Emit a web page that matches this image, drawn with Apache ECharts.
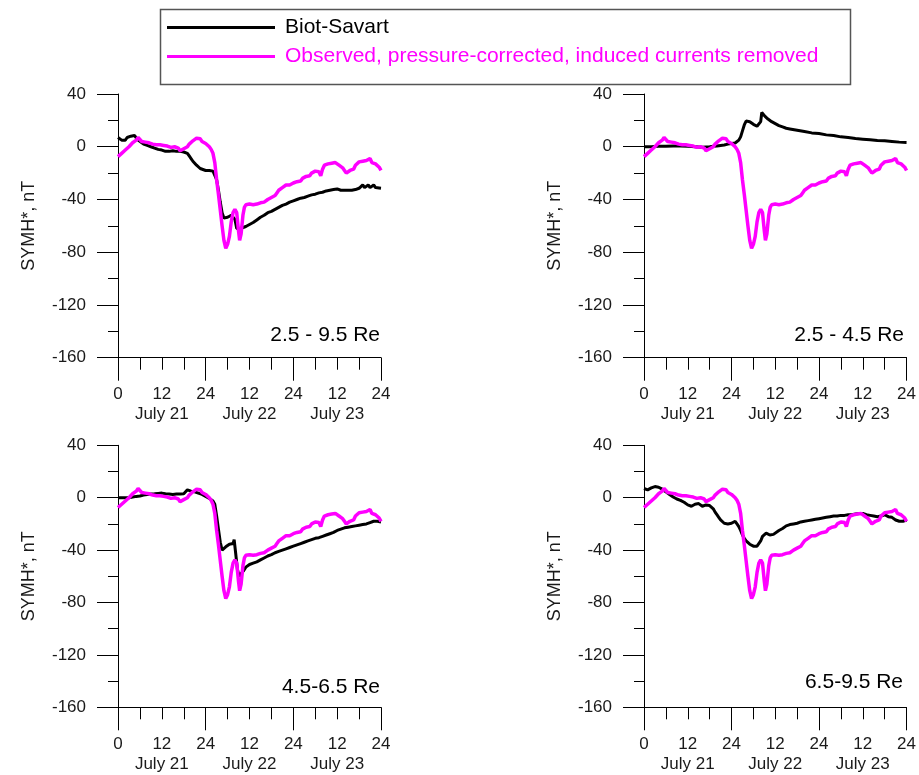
<!DOCTYPE html>
<html>
<head>
<meta charset="utf-8">
<script src="https://cdn.jsdelivr.net/npm/echarts@6/dist/echarts.min.js"></script>
<style>
html,body{margin:0;padding:0;background:#fff;}
#chart{width:919px;height:775px;}
</style>
</head>
<body>
<div id="chart"></div>
<script>
// ---- Data (hours since 00 UT July 21, SYMH* in nT) ----
const xTickLabels = ['0', '12', '24', '12', '24', '12', '24'];
const dayLabels = ['July 21', 'July 22', 'July 23'];
const panelLabels = ['2.5 - 9.5 Re', '2.5 - 4.5 Re', '4.5-6.5 Re', '6.5-9.5 Re'];
const seriesNames = ['Biot-Savart', 'Observed, pressure-corrected, induced currents removed'];

// Observed, pressure-corrected, induced currents removed (same in all panels)
const observed = [
 [0,-7.5],[0.5,-6],[1,-5],[1.5,-3.5],[2,-2.5],[2.5,-1],[3,0],[3.5,1.5],[4,3],[4.5,3.5],[5,5],[5.5,7],[6,5.5],[6.5,4],
 [7,5],[7.5,3.5],[8,4],[8.5,3],[9,3.5],[9.5,2],[10,2.5],[10.5,1.5],[11,0.5],[11.5,1.5],[12,0.5],[12.5,1],[13,0],[13.5,0.5],
 [14,0.5],[14.5,-0.5],[15,0.5],[15.5,0],[16,0.5],[16.5,-1],[17,-3],[17.5,-2.5],[18,-1.5],[18.5,-2],[19,0],[19.5,2],[20,3],
 [20.5,4.5],[21,5],[21.5,6.5],[22,5],[22.5,6],[23,4],[23.5,3],[24,2.5],[24.5,1.5],[25,0],[25.5,-2],[26,-5],[26.5,-12],
 [27,-25],[27.5,-36],[28,-48],[28.5,-60],[29,-71],[29.5,-77],[30,-74],[30.5,-68],[31,-57],[31.5,-50],[32,-47.5],[32.5,-50],
 [33,-64],[33.3,-71],[33.7,-66],[34.2,-52],[34.6,-46],[35,-44],[35.5,-45],[36,-43.5],[36.5,-44.5],[37,-44],[37.5,-44.5],
 [38,-43.5],[38.5,-44],[39,-42.5],[39.5,-43],[40,-42],[40.5,-41.5],[41,-40],[41.5,-40.5],[42,-38.5],[42.5,-38],[43,-37],
 [43.5,-35],[44,-33],[44.5,-33.5],[45,-31],[45.5,-29.5],[46,-29],[46.5,-30],[47,-29],[47.5,-28],[48,-27.5],[48.5,-28],
 [49,-26.5],[49.5,-25.5],[50,-26],[50.5,-24],[51,-23],[51.5,-22.5],[52,-21.5],[52.5,-22],[53,-20],[53.5,-21],[54,-18.5],
 [54.5,-17],[55,-19],[55.5,-22],[56,-17],[56.5,-14],[57,-15],[57.5,-13],[58,-14],[58.5,-12.5],[59,-13.5],[59.5,-12],
 [60,-13],[60.5,-14],[61,-15],[61.5,-16],[62,-18],[62.5,-20],[63,-19],[63.5,-18],[64,-16.5],[64.5,-17],[65,-14],[65.5,-13],
 [66,-11.5],[66.5,-12.5],[67,-11],[67.5,-12],[68,-10.5],[68.5,-11],[69,-9],[69.5,-12],[70,-11],[70.5,-13],[71,-13.5],
 [71.5,-15.5],[72,-18]
];

// Biot-Savart, 2.5 - 9.5 Re
const bs25_95 = [
 [0,7],[0.5,6],[1,5],[1.5,6],[2,5],[2.5,7],[3,7.5],[3.5,8],[4,6.5],[4.5,8.5],[5,7],[5.5,5],[6,3.5],[7,2],[8,1],[9,0],
 [10,-1],[11,-2],[12,-2.5],[13,-3.5],[14,-3.5],[15,-3],[16,-3.5],[17,-3.5],[18,-4],[19,-5],[19.5,-7],[20,-9],[20.5,-11],
 [21,-12.5],[21.5,-14],[22,-15.5],[22.5,-16.5],[23,-17.5],[24,-18],[25,-18],[26,-18.5],[26.5,-19],[27,-25],[27.5,-33],
 [28,-42],[28.5,-50],[29,-54],[29.5,-54.5],[30,-53.5],[30.5,-54],[31,-52],[31.5,-51],[32,-55],[32.5,-62],[33,-63],
 [33.5,-62],[34,-63],[35,-60.5],[36,-59],[37,-57.5],[38,-55.5],[39,-53.5],[40,-52],[41,-50],[42,-49],[43,-47.5],[44,-46],
 [45,-44.5],[46,-43.5],[47,-42],[48,-41],[49,-40],[50,-39],[51,-38.5],[52,-37.5],[53,-36.5],[54,-36],[55,-35],[56,-34.5],
 [57,-33.5],[58,-33],[59,-32.5],[59.5,-31.5],[60,-32],[61,-33],[62,-33],[63,-33],[64,-33],[65,-32.5],[66,-31.5],[67,-29],
 [67.5,-31],[68,-30.5],[68.5,-29],[69,-31],[69.5,-30],[70,-29],[70.5,-31],[71,-32],[72,-31.5]
];

// Biot-Savart, 2.5 - 4.5 Re
const bs25_45 = [
 [0,0],[2,0],[4,0.3],[6,0.3],[8,0.5],[10,0.5],[12,0.3],[14,0],[16,-0.3],[18,0],[19,0.3],[20,0.5],[21,1],[22,1.3],[23,2],
 [24,2.5],[25,2.8],[25.5,3.5],[26,5],[26.5,7.5],[27,12],[27.5,16.5],[28,19.5],[28.5,21],[29,19],[29.5,17.5],[30,17],
 [30.5,16],[31,15.5],[31.5,14.5],[32,19],[32.3,26],[32.7,24.5],[33.2,23],[34,21],[35,19],[36,17.5],[37,16],[38,15],
 [39,14],[40,13.5],[42,12.5],[44,11.5],[46,10.5],[48,10],[50,9],[52,8.5],[54,7.5],[56,7],[58,6.25],[60,5.75],[62,5.25],
 [64,4.75],[66,4.5],[68,4],[70,3.5],[72,3.3]
];

// Biot-Savart, 4.5 - 6.5 Re
const bs45_65 = [
 [0,0],[1,0],[2,0],[3,0],[4,0.5],[5,1],[6,1.3],[7,2],[8,2.5],[9,2.8],[10,3],[11,3.3],[12,3.5],[13,3],[14,2.8],[15,2.5],
 [16,2.8],[17,2.8],[18,3],[18.5,4],[19,6],[19.5,6.5],[20,5],[20.5,5],[21,4.5],[22,3.5],[23,2.5],[24,1],[25,-0.5],
 [25.5,-1.5],[26,-2.5],[26.5,-5],[27,-14],[27.5,-24],[28,-34],[28.5,-40],[29,-40],[29.5,-37.5],[30,-36],[30.5,-35.5],
 [31,-36],[31.5,-35],[31.8,-32],[32.2,-42],[32.7,-55],[33.2,-60],[33.7,-58],[34.3,-56],[35,-53],[36,-51],[37,-50],
 [38,-49],[39,-47.5],[40,-46],[41,-44.5],[42,-43.5],[43,-42],[44,-41],[45,-40],[46,-39],[47,-38],[48,-37],[49,-36],
 [50,-35],[51,-34],[52,-33],[53,-32],[54,-31],[55,-30.5],[56,-29.5],[57,-28.5],[58,-27.5],[59,-26.5],[60,-25],[61,-24],
 [62,-23],[63,-22.5],[64,-22],[65,-21.5],[66,-21],[67,-20.5],[68,-20],[69,-19],[70,-18],[71,-18],[72,-18.5]
];

// Biot-Savart, 6.5 - 9.5 Re
const bs65_95 = [
 [0,7],[0.5,6.5],[1,6],[1.5,6.5],[2,7.5],[2.5,7],[3,8.5],[3.5,9],[4,8],[4.5,7],[5,6.5],[5.5,5.5],[6,4.5],[7,2.5],[8,0.5],
 [9,-1],[10,-2],[11,-3.5],[12,-5.5],[12.5,-7],[13,-6.5],[14,-5],[15,-4.5],[15.5,-5],[16,-6.5],[16.5,-7],[17,-5.5],
 [17.5,-5],[18,-6],[18.5,-6.5],[19,-8.5],[19.5,-11],[20,-13],[20.5,-15],[21,-17],[21.5,-18.5],[22,-19.5],[23,-20],
 [24,-19.5],[24.5,-19],[25,-18],[25.5,-20],[26,-22],[26.5,-25],[27,-28.5],[27.5,-31],[28,-33],[28.5,-34],[29,-35.5],
 [29.5,-36],[30,-37],[30.5,-36.5],[31,-37],[31.5,-36],[32,-33],[32.5,-29.5],[33,-28],[33.5,-27],[34,-28],[34.5,-28.5],
 [35,-28.5],[35.5,-28],[36,-27],[37,-25],[38,-23.5],[39,-21.5],[40,-20.5],[41,-20],[42,-19.5],[43,-18.5],[44,-18],
 [45,-17.5],[46,-17],[47,-16.5],[48,-16],[49,-15.5],[50,-15],[51,-14.5],[52,-14],[53,-14],[54,-13.5],[55,-13.5],
 [56,-13],[57,-13],[58,-12.5],[59,-12],[60,-12],[61,-13],[62,-13.5],[63,-14],[64,-14.5],[65,-14],[66,-13],[67,-14.5],
 [68,-15],[68.5,-13.5],[69,-17],[69.5,-18],[70,-18],[71,-18],[72,-17]
];

const biotSavart = [bs25_95, bs25_45, bs45_65, bs65_95];

// ---- Layout ----
const grids = [
  {left: 118, top: 94, width: 263, height: 263.7},
  {left: 644, top: 94, width: 262.7, height: 263.7},
  {left: 118, top: 445.3, width: 263, height: 262},
  {left: 644, top: 445.3, width: 262.7, height: 262}
];
const labelPos = [
  {right: 539, top: 325},
  {right: 15, top: 325},
  {right: 539, top: 677},
  {right: 16, top: 672}
];

const FONT = '"Liberation Sans", Arial, sans-serif';
const TXT = '#1a1a1a';

const xAxes = [], yAxes = [], series = [], titles = [];
grids.forEach((g, i) => {
  // tick axis: long ticks every 24 h, short every 6 h
  xAxes.push({
    type: 'value', gridIndex: i, position: 'bottom', min: 0, max: 72, interval: 24,
    axisLine: {show: true, onZero: false, lineStyle: {color: '#000', width: 1}},
    axisTick: {show: true, inside: false, length: 23, lineStyle: {color: '#000', width: 1}},
    minorTick: {show: true, splitNumber: 4, length: 12, lineStyle: {color: '#000', width: 1}},
    axisLabel: {show: false},
    splitLine: {show: false}, minorSplitLine: {show: false}
  });
  // label axis: labels every 12 h
  xAxes.push({
    type: 'value', gridIndex: i, position: 'bottom', min: 0, max: 72, interval: 12,
    axisLine: {show: false}, axisTick: {show: false}, splitLine: {show: false},
    axisLabel: {
      show: true, margin: 27, fontFamily: FONT, fontSize: 17, lineHeight: 20, color: TXT,
      formatter: function (v) {
        const k = Math.round(v / 12);
        let s = xTickLabels[k];
        if (k % 2 === 1) s += '\n' + dayLabels[(k - 1) / 2];
        return s;
      }
    }
  });
  yAxes.push({
    type: 'value', gridIndex: i, min: -160, max: 40, interval: 40,
    name: 'SYMH*, nT', nameLocation: 'middle', nameGap: 80,
    nameTextStyle: {fontFamily: FONT, fontSize: 18, color: TXT},
    axisLine: {show: true, onZero: false, lineStyle: {color: '#000', width: 1}},
    axisTick: {show: true, inside: false, length: 21, lineStyle: {color: '#000', width: 1}},
    minorTick: {show: true, splitNumber: 2, length: 10, lineStyle: {color: '#000', width: 1}},
    axisLabel: {show: true, margin: 32, fontFamily: FONT, fontSize: 17, color: TXT},
    splitLine: {show: false}, minorSplitLine: {show: false}
  });
  series.push({
    name: seriesNames[0], type: 'line', xAxisIndex: i * 2, yAxisIndex: i,
    data: biotSavart[i], showSymbol: false, symbol: 'none',
    lineStyle: {color: '#000', width: 3}, itemStyle: {color: '#000'}, z: 2
  });
  series.push({
    name: seriesNames[1], type: 'line', xAxisIndex: i * 2, yAxisIndex: i,
    data: observed, showSymbol: false, symbol: 'none',
    lineStyle: {color: '#ff00ff', width: 3.5}, itemStyle: {color: '#ff00ff'}, z: 3
  });
  titles.push({
    text: panelLabels[i], right: labelPos[i].right, top: labelPos[i].top, padding: 0,
    textStyle: {fontFamily: FONT, fontSize: 21, fontWeight: 'normal', color: '#000'}
  });
});

const chart = echarts.init(document.getElementById('chart'), null, {renderer: 'canvas'});
chart.setOption({
  animation: false,
  backgroundColor: '#fff',
  title: titles,
  grid: grids,
  xAxis: xAxes,
  yAxis: yAxes,
  legend: {
    orient: 'vertical', left: 167, top: 17, padding: 0, itemGap: 8,
    itemWidth: 108, itemHeight: 3, icon: 'rect',
    textStyle: {fontFamily: FONT, fontSize: 21, padding: [0, 0, 0, 5]},
    data: [
      {name: seriesNames[0], textStyle: {color: '#000'}},
      {name: seriesNames[1], textStyle: {color: '#ff00ff'}}
    ]
  },
  graphic: [{
    type: 'rect', left: 158, top: 7, z: -1, silent: true,
    shape: {width: 690, height: 75},
    style: {fill: 'none', stroke: '#555', lineWidth: 1.5}
  }],
  series: series
});
</script>
</body>
</html>
